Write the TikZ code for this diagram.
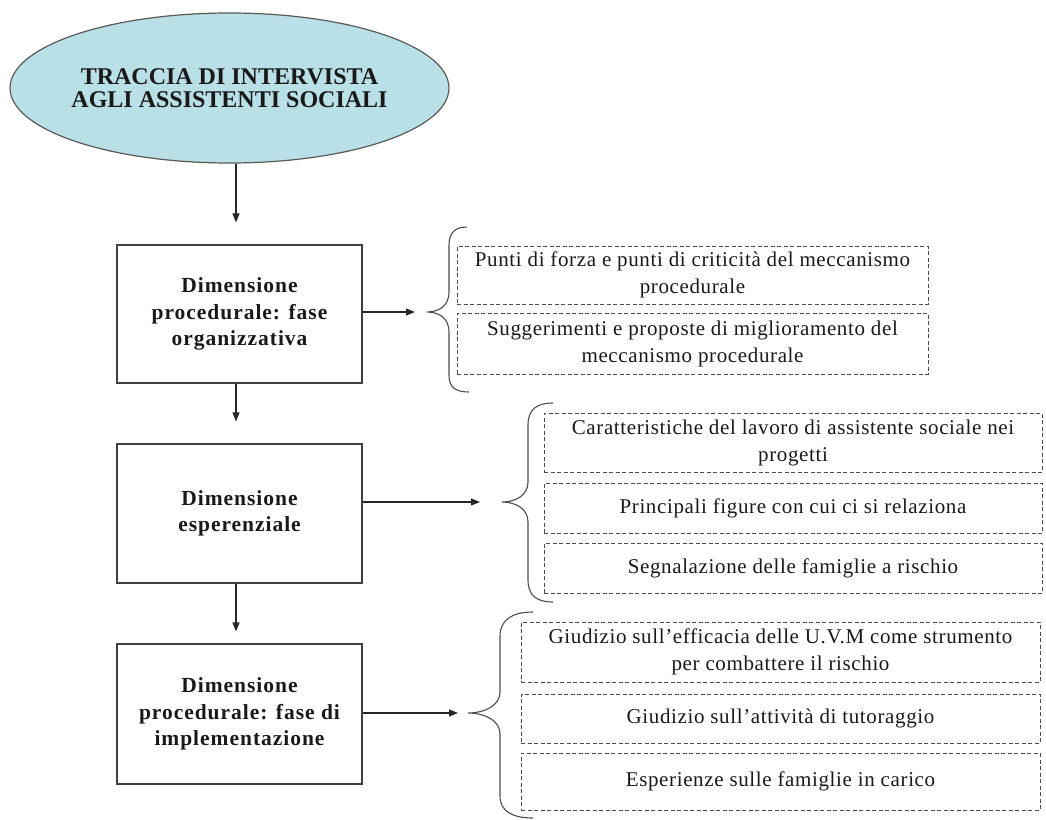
\documentclass[tikz,border=0pt]{standalone}
\usepackage{fontspec}
\setmainfont{Liberation Serif}
\newfontfamily\subfont[LetterSpace=3]{Liberation Serif}
\newfontfamily\boxfont[LetterSpace=4.5]{Liberation Serif}
\usetikzlibrary{arrows.meta,shapes.geometric}
\definecolor{titleblue}{RGB}{185,224,230}
\definecolor{inkgray}{RGB}{25,25,25}
\tikzset{
  titleshape/.style={ellipse, draw=black!65, line width=1.2pt, fill=titleblue,
    inner xsep=-5pt, inner ysep=0pt, minimum width=439pt, minimum height=150pt, align=center,
    text=inkgray, font=\bfseries\fontsize{24}{23.5}\selectfont},
  mainbox/.style={rectangle, draw=black!75, line width=1.1pt, align=center,
    minimum width=245pt, text=inkgray,
    font=\boxfont\bfseries\fontsize{21.5}{26.5}\selectfont},
  subbox/.style={rectangle, draw=black!70, line width=0.9pt,
    dash pattern=on 4pt off 2.5pt, align=center, inner sep=0pt, text=inkgray,
    font=\subfont\fontsize{21}{27}\selectfont},
  arr/.style={draw=black!85, line width=1.1pt, -{Triangle[length=9pt,width=7pt]}},
  bracepath/.style={draw=black!70, line width=1.1pt}
}
\begin{document}
\begin{tikzpicture}[x=1pt,y=-1pt]
\useasboundingbox (0,0) rectangle (1046,819);

% heading
\node[titleshape] (title) at (229.5,88) {TRACCIA DI INTERVISTA\\AGLI ASSISTENTI SOCIALI};

% the three dimensions
\node[mainbox, minimum height=138pt] (b1) at (239.5,314) {Dimensione\\procedurale: fase\\organizzativa};
\node[mainbox, minimum height=139pt] (b2) at (239.5,513.5) {Dimensione\\esperenziale};
\node[mainbox, minimum height=140pt] (b3) at (239.5,714) {Dimensione\\procedurale: fase di\\implementazione};

% tips of the braces
\coordinate (t1) at (427,312);
\coordinate (t2) at (502,502);
\coordinate (t3) at (468,713);

% vertical flow
\draw[arr] ([xshift=-3.5pt]b1.north |- title.south) -- ([xshift=-3.5pt,yshift=22pt]b1.north);
\draw[arr] ([xshift=-3.5pt]b1.south) -- ([xshift=-3.5pt,yshift=22pt]b2.north);
\draw[arr] ([xshift=-3.5pt]b2.south) -- ([xshift=-3.5pt,yshift=12pt]b3.north);

% links to the braces
\draw[arr, shorten >=12pt] (b1.east |- t1) -- (t1);
\draw[arr, shorten >=22pt] (b2.east |- t2) -- (t2);
\draw[arr, shorten >=10pt] (b3.east |- t3) -- (t3);

% braces
\draw[bracepath] (467,227) .. controls (455,227) and (449,233) .. (449,245) -- (449,292)
  .. controls (449,305) and (440,312) .. (t1) .. controls (440,312) and (449,319) .. (449,332)
  -- (449,375) .. controls (449,387) and (455,392) .. (469,392);
\draw[bracepath] (553,403) .. controls (536,403) and (528,410) .. (528,425) -- (528,482)
  .. controls (528,495) and (516,502) .. (t2) .. controls (516,502) and (528,509) .. (528,522)
  -- (528,580) .. controls (528,595) and (536,602) .. (553,602);
\draw[bracepath] (533,612) .. controls (512,612) and (500,620) .. (500,636) -- (500,692)
  .. controls (500,706) and (484,713) .. (t3) .. controls (484,713) and (500,720) .. (500,734)
  -- (500,796) .. controls (500,811) and (512,818) .. (533,818);

% items of the first dimension
\node[subbox, minimum width=471pt, minimum height=58pt] (s11) at (692.5,275)
  {Punti di forza e punti di criticità del meccanismo\\procedurale};
\node[subbox, minimum width=471pt, minimum height=61pt] (s12) at (692.5,343.5)
  {Suggerimenti e proposte di miglioramento del\\meccanismo procedurale};

% items of the second dimension
\node[subbox, minimum width=498pt, minimum height=59pt] (s21) at (793,442.5)
  {Caratteristiche del lavoro di assistente sociale nei\\progetti};
\node[subbox, minimum width=498pt, minimum height=50pt] (s22) at (793,508)
  {Principali figure con cui ci si relaziona};
\node[subbox, minimum width=498pt, minimum height=50pt] (s23) at (793,568)
  {Segnalazione delle famiglie a rischio};

% items of the third dimension
\node[subbox, minimum width=519pt, minimum height=60pt] (s31) at (780.5,652)
  {Giudizio sull’efficacia delle U.V.M come strumento\\per combattere il rischio};
\node[subbox, minimum width=519pt, minimum height=49pt] (s32) at (780.5,718.5)
  {Giudizio sull’attività di tutoraggio};
\node[subbox, minimum width=519pt, minimum height=57pt] (s33) at (780.5,781.5)
  {Esperienze sulle famiglie in carico};
\end{tikzpicture}
\end{document}
